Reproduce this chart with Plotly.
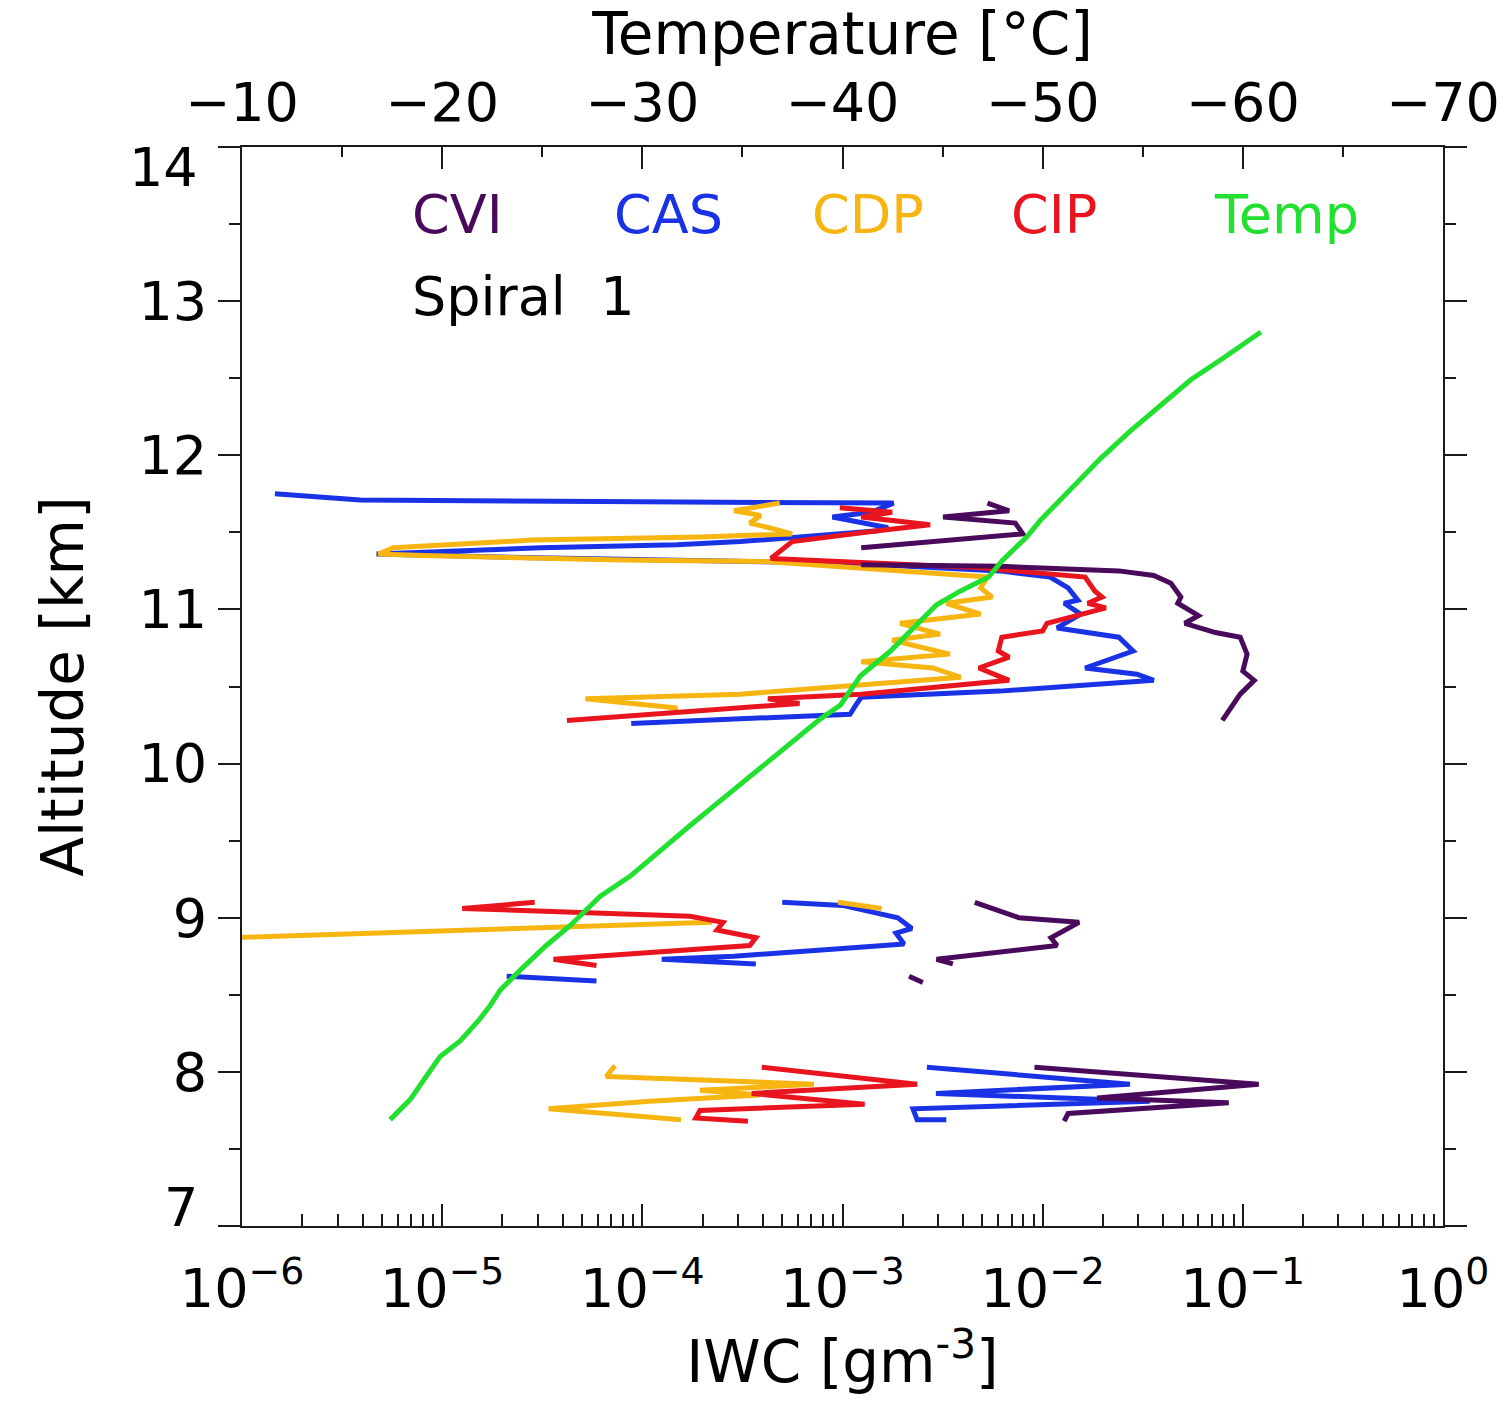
import plotly.graph_objects as go

# ---- ice water content profiles (g m^-3) vs altitude (km); None separates flight legs ----
cas_iwc = [1.46e-6, 3.9e-6, 6.1e-5, 1.8e-3, 1.39e-3, 8.9e-4, 1.69e-3, 1.5e-3, 3.08e-4, 1.49e-4,
           3.1e-5, 4.7e-6, 1.95e-5, 1.94e-4, 1.09e-3, 6.1e-3, 1.09e-2, 1.34e-2, 1.5e-2, 1.28e-2,
           1.55e-2, 1.18e-2, 2.4e-2, 2.83e-2, 1.63e-2, 2.96e-2, 3.59e-2, 6.1e-3, 1.24e-3, 1.18e-3,
           1.09e-3, 3.08e-4, 8.8e-5,
           None,
           5.0e-4, 1.0e-3, 1.89e-3, 2.22e-3, 1.85e-3, 2.03e-3, 1.0e-3, 2.87e-4, 1.25e-4, 3.69e-4,
           None,
           2.1e-5, 5.9e-5,
           None,
           2.64e-3, 2.73e-2, 2.93e-3, 3.43e-2, 2.25e-3, 2.36e-3, 3.3e-3]
cas_alt = [11.75, 11.71, 11.70, 11.69, 11.63, 11.60, 11.53, 11.51, 11.44, 11.42,
           11.40, 11.36, 11.34, 11.32, 11.30, 11.25, 11.21, 11.14, 11.06, 11.04,
           10.97, 10.88, 10.82, 10.73, 10.62, 10.58, 10.54, 10.47, 10.43, 10.39,
           10.32, 10.29, 10.26,
           None,
           9.10, 9.08, 9.00, 8.93, 8.90, 8.83, 8.80, 8.75, 8.73, 8.70,
           None,
           8.62, 8.59,
           None,
           8.03, 7.92, 7.86, 7.81, 7.76, 7.69, 7.69]

cdp_iwc = [4.86e-4, 2.87e-4, 3.9e-4, 3.44e-4, 4.3e-4, 5.6e-4, 1.94e-4, 2.8e-5, 5.7e-6, 4.8e-6,
           8.1e-6, 8.0e-5, 4.3e-4, 5.3e-3, 4.9e-3, 5.6e-3, 3.3e-3, 4.9e-3, 1.94e-3, 3.07e-3,
           1.77e-3, 3.44e-3, 1.24e-3, 2.83e-3, 3.9e-3, 3.08e-4, 5.2e-5, 1.49e-4, 1.42e-4,
           None,
           5e-7, 2.23e-4,
           None,
           9.5e-4, 1.57e-3,
           None,
           7.3e-5, 6.6e-5, 7.2e-4, 1.94e-4, 3.86e-4, 1.09e-4, 3.4e-5, 7.7e-5, 1.56e-4]
cdp_alt = [11.69, 11.64, 11.61, 11.56, 11.53, 11.49, 11.47, 11.45, 11.40, 11.36,
           11.35, 11.32, 11.31, 11.21, 11.14, 11.08, 11.04, 10.97, 10.91, 10.84,
           10.80, 10.71, 10.66, 10.62, 10.56, 10.45, 10.42, 10.36, 10.34,
           None,
           8.86, 8.97,
           None,
           9.10, 9.06,
           None,
           8.04, 7.97, 7.92, 7.88, 7.85, 7.81, 7.76, 7.72, 7.69]

cip_iwc = [9.7e-4, 1.77e-3, 1.24e-3, 2.74e-3, 1.5e-3, 5.6e-4, 4.39e-4, 4.9e-3, 1.63e-2, 1.82e-2,
           1.98e-2, 1.68e-2, 2.07e-2, 1.34e-2, 1.05e-2, 1.0e-2, 6.25e-3, 6.0e-3, 6.8e-3, 4.8e-3,
           6.8e-3, 1.24e-3, 4.24e-4, 6.1e-4, 3.86e-4, 4.2e-5,
           None,
           2.9e-5, 1.26e-5, 1.73e-4, 2.53e-4, 2.36e-4, 3.69e-4, 3.44e-4, 9.2e-5, 3.6e-5, 5.9e-5,
           None,
           3.95e-4, 2.36e-3, 3.52e-4, 1.29e-3, 1.94e-4, 1.85e-4, 3.37e-4]
cip_alt = [11.66, 11.63, 11.60, 11.55, 11.51, 11.44, 11.33, 11.27, 11.21, 11.12,
           11.08, 11.04, 11.01, 10.95, 10.91, 10.86, 10.82, 10.73, 10.69, 10.62,
           10.54, 10.45, 10.42, 10.39, 10.37, 10.28,
           None,
           9.10, 9.06, 9.01, 8.97, 8.92, 8.87, 8.82, 8.77, 8.73, 8.69,
           None,
           8.03, 7.92, 7.86, 7.79, 7.75, 7.70, 7.68]

cvi_iwc = [5.3e-3, 6.8e-3, 3.18e-3, 7.3e-3, 7.96e-3, 1.24e-3,
           None,
           1.24e-3, 6.1e-3, 2.4e-2, 3.59e-2, 4.37e-2, 4.9e-2, 4.73e-2, 6.0e-2, 5.13e-2, 7.3e-2,
           9.7e-2, 0.105, 0.100, 0.114, 9.7e-2, 7.9e-2,
           None,
           4.58e-3, 7.6e-3, 1.52e-2, 1.1e-2, 1.18e-2, 2.95e-3, 3.56e-3,
           None,
           2.15e-3, 2.52e-3,
           None,
           9.1e-3, 0.12, 1.87e-2, 8.5e-2, 1.34e-2, 1.28e-2]
cvi_alt = [11.69, 11.64, 11.60, 11.56, 11.49, 11.40,
           None,
           11.29, 11.28, 11.25, 11.22, 11.17, 11.08, 11.04, 10.96, 10.91, 10.85,
           10.82, 10.71, 10.60, 10.54, 10.45, 10.28,
           None,
           9.10, 9.00, 8.97, 8.87, 8.82, 8.73, 8.70,
           None,
           8.62, 8.58,
           None,
           8.03, 7.92, 7.83, 7.80, 7.73, 7.68]

# ---- temperature profile (deg C) vs altitude (km) ----
temp_c = [-17.4, -18.4, -19.2, -19.9, -20.9, -21.8, -22.4, -22.9, -23.9, -25.2,
          -26.4, -27.9, -29.4, -30.9, -32.4, -33.9, -35.4, -36.7, -37.9, -38.9,
          -39.9, -40.9, -42.4, -43.7, -44.7, -45.9, -47.3, -48.0, -49.2, -49.9,
          -50.9, -51.9, -52.9, -54.4, -55.9, -57.4, -58.9, -60.9]
temp_alt = [7.69, 7.82, 7.97, 8.10, 8.20, 8.33, 8.43, 8.53, 8.66, 8.82,
            8.95, 9.14, 9.27, 9.44, 9.60, 9.76, 9.92, 10.05, 10.18, 10.29,
            10.38, 10.57, 10.73, 10.90, 11.03, 11.12, 11.21, 11.32, 11.47, 11.58,
            11.71, 11.84, 11.98, 12.16, 12.32, 12.49, 12.62, 12.80]

# ---- axis tick labels ----
iwc_ticks = [1e-6, 1e-5, 1e-4, 1e-3, 1e-2, 1e-1, 1e0]
iwc_ticktext = ["10<sup>−6</sup>", "10<sup>−5</sup>", "10<sup>−4</sup>", "10<sup>−3</sup>",
                "10<sup>−2</sup>", "10<sup>−1</sup>", "10<sup>0</sup>"]
iwc_minor = [m * d for d in iwc_ticks[:-1] for m in range(2, 10)]
temp_ticks = [-10, -20, -30, -40, -50, -60, -70]
alt_ticks = [7, 8, 9, 10, 11, 12, 13, 14]
alt_inner_labels = alt_ticks[1:-1]   # end labels are drawn flush with the frame

C_CVI = "#4a0a5c"
C_CAS = "#1a32e6"
C_CDP = "#f7b512"
C_CIP = "#e8141e"
C_TEMP = "#22e030"
FONT = "DejaVu Sans"
FS = 54
TITLE_FS = 58
LW = 5

fig = go.Figure()
for xs, ys, col, name in [(cas_iwc, cas_alt, C_CAS, "CAS"),
                          (cdp_iwc, cdp_alt, C_CDP, "CDP"),
                          (cip_iwc, cip_alt, C_CIP, "CIP"),
                          (cvi_iwc, cvi_alt, C_CVI, "CVI")]:
    fig.add_trace(go.Scatter(x=xs, y=ys, mode="lines", name=name, connectgaps=False,
                             line=dict(color=col, width=LW), xaxis="x", yaxis="y"))

fig.add_trace(go.Scatter(x=temp_c, y=temp_alt, mode="lines", name="Temp",
                         line=dict(color=C_TEMP, width=LW), xaxis="x2", yaxis="y"))

axis_line = dict(showline=True, linecolor="#1a1a1a", linewidth=2, showgrid=False,
                 zeroline=False, tickcolor="#1a1a1a", tickwidth=2)

fig.update_layout(
    width=1511, height=1408,
    margin=dict(l=242, r=68, t=147, b=182),
    paper_bgcolor="white", plot_bgcolor="white",
    showlegend=False,
    font=dict(family=FONT, size=FS, color="black"),
    xaxis=dict(type="log", range=[-6, 0], tickmode="array", tickvals=iwc_ticks,
               ticktext=iwc_ticktext, ticks="inside", ticklen=22, ticklabelstandoff=14,
               minor=dict(tickmode="array", tickvals=iwc_minor, ticks="inside",
                          ticklen=12, tickcolor="#1a1a1a", tickwidth=2),
               title=dict(text="IWC [gm<sup>-3</sup>]", standoff=20,
                          font=dict(family=FONT, size=TITLE_FS, color="black")),
               automargin=False, **axis_line),
    xaxis2=dict(range=[-10, -70], overlaying="x", side="top", anchor="y",
                tickmode="array", tickvals=temp_ticks, ticks="inside", ticklen=22,
                ticklabelstandoff=2,
                minor=dict(dtick=5, ticks="inside", ticklen=10, tickcolor="#1a1a1a", tickwidth=2),
                title=dict(text="Temperature [°C]", standoff=2,
                           font=dict(family=FONT, size=TITLE_FS, color="black")),
                automargin=False, **axis_line),
    yaxis=dict(range=[7, 14], tickmode="array", tickvals=alt_ticks,
               ticktext=[str(v) if v in alt_inner_labels else "" for v in alt_ticks],
               ticks="outside", ticklen=22, mirror="ticks",
               minor=dict(dtick=0.5, ticks="outside", ticklen=11, tickcolor="#1a1a1a", tickwidth=2),
               title=dict(text="Altitude [km]", standoff=36,
                          font=dict(family=FONT, size=TITLE_FS, color="black")),
               automargin=False, **axis_line),
)

# end labels of the altitude axis, kept inside the frame's height
fig.add_annotation(text=str(alt_ticks[-1]), x=-0.036, y=alt_ticks[-1], xref="paper", yref="y",
                   xanchor="right", yanchor="top", showarrow=False, borderpad=0, yshift=12,
                   font=dict(family=FONT, size=FS, color="black"))
fig.add_annotation(text=str(alt_ticks[0]), x=-0.036, y=alt_ticks[0], xref="paper", yref="y",
                   xanchor="right", yanchor="bottom", showarrow=False, borderpad=0, yshift=-14,
                   font=dict(family=FONT, size=FS, color="black"))

# instrument labels
for text, xp, col in [("CVI", 0.140, C_CVI), ("CAS", 0.308, C_CAS), ("CDP", 0.473, C_CDP),
                      ("CIP", 0.639, C_CIP), ("Temp", 0.808, C_TEMP)]:
    fig.add_annotation(text=text, x=xp, y=0.937, xref="paper", yref="paper",
                       xanchor="left", yanchor="middle", showarrow=False,
                       font=dict(family=FONT, size=FS, color=col))
fig.add_annotation(text="Spiral\u00a0\u00a01", x=0.140, y=0.861, xref="paper", yref="paper",
                   xanchor="left", yanchor="middle", showarrow=False,
                   font=dict(family=FONT, size=FS, color="black"))

fig.write_html("out.html")
